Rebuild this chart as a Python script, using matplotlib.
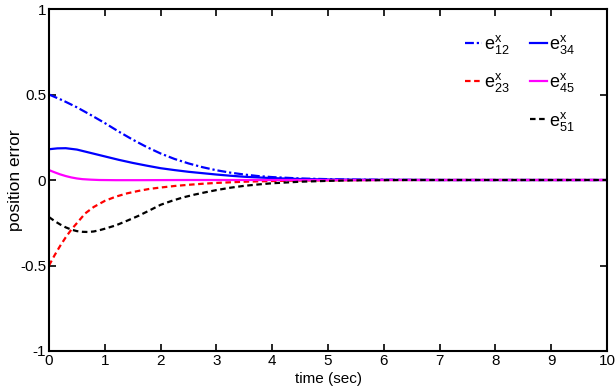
import numpy as np
import matplotlib
matplotlib.use('Agg')
import matplotlib.pyplot as plt
from matplotlib.lines import Line2D

plt.rcParams['font.family'] = ['Liberation Sans', 'DejaVu Sans']
plt.rcParams['mathtext.fontset'] = 'custom'
plt.rcParams['mathtext.rm'] = 'Liberation Sans'
plt.rcParams['mathtext.it'] = 'Liberation Sans'
plt.rcParams['mathtext.bf'] = 'Liberation Sans'

# values
t12 = [0, 0.25, 0.5, 0.75, 1.0, 1.25, 1.5, 1.75, 2.0, 2.25, 2.5, 2.75, 3.0, 3.25, 3.5, 3.75, 4.0, 4.5, 5.0, 5.5, 6.0, 7.0, 10.0]
e12 = [0.5, 0.465, 0.425, 0.38, 0.333, 0.283, 0.236, 0.193, 0.155, 0.123, 0.097, 0.075, 0.057, 0.043, 0.032, 0.023, 0.017, 0.009, 0.005, 0.002, 0.001, 0.0, 0.0]

t34 = [0, 0.15, 0.3, 0.5, 0.75, 1.0, 1.25, 1.5, 1.75, 2.0, 2.25, 2.5, 2.75, 3.0, 3.25, 3.5, 3.75, 4.0, 4.5, 5.0, 6.0, 7.0, 10.0]
e34 = [0.18, 0.185, 0.186, 0.178, 0.158, 0.138, 0.118, 0.1, 0.084, 0.069, 0.058, 0.048, 0.04, 0.032, 0.025, 0.019, 0.015, 0.011, 0.006, 0.003, 0.001, 0.0, 0.0]

t45 = [0, 0.1, 0.2, 0.3, 0.4, 0.5, 0.6, 0.75, 0.9, 1.2, 1.6, 2.5, 10.0]
e45 = [0.058, 0.045, 0.033, 0.023, 0.015, 0.009, 0.005, 0.002, 0.0, -0.001, -0.001, 0.0, 0.0]

t23 = [0, 0.1, 0.2, 0.3, 0.4, 0.5, 0.65, 0.8, 1.0, 1.2, 1.4, 1.6, 1.8, 2.0, 2.25, 2.5, 2.75, 3.0, 3.5, 4.0, 4.5, 5.0, 6.0, 10.0]
e23 = [-0.5, -0.44, -0.385, -0.335, -0.29, -0.252, -0.195, -0.158, -0.122, -0.097, -0.078, -0.064, -0.052, -0.044, -0.035, -0.028, -0.022, -0.017, -0.01, -0.006, -0.003, -0.002, 0.0, 0.0]

t51 = [0, 0.1, 0.2, 0.3, 0.4, 0.5, 0.6, 0.7, 0.8, 0.9, 1.0, 1.2, 1.4, 1.6, 1.8, 2.0, 2.2, 2.4, 2.6, 2.8, 3.0, 3.25, 3.5, 3.75, 4.0, 4.5, 5.0, 5.5, 6.5, 10.0]
e51 = [-0.217, -0.24, -0.26, -0.277, -0.29, -0.299, -0.303, -0.304, -0.301, -0.294, -0.285, -0.265, -0.238, -0.21, -0.178, -0.145, -0.122, -0.102, -0.086, -0.072, -0.059, -0.045, -0.034, -0.026, -0.019, -0.01, -0.005, -0.002, 0.0, 0.0]

labels = [r'$\mathregular{e^x_{12}}$', r'$\mathregular{e^x_{23}}$', r'$\mathregular{e^x_{34}}$',
          r'$\mathregular{e^x_{45}}$', r'$\mathregular{e^x_{51}}$']

fig = plt.figure(figsize=(6.15, 3.92), dpi=100)
ax = fig.add_axes([0.0797, 0.1046, 0.9073, 0.8724])

lw = 1.6
l12, = ax.plot(t12, e12, color='#0000ff', linestyle=(0, (4, 1.3, 1, 1.3)), lw=lw)
l23, = ax.plot(t23, e23, color='#ff0000', linestyle=(0, (2.5, 1.6)), lw=lw)
l34, = ax.plot(t34, e34, color='#0000ff', linestyle='-', lw=lw)
l45, = ax.plot(t45, e45, color='#ff00ff', linestyle='-', lw=lw)
l51, = ax.plot(t51, e51, color='#000000', linestyle=(0, (2.5, 1.6)), lw=lw)

blank = Line2D([], [], linestyle='none')
ax.legend([l12, l23, blank, l34, l45, l51],
          [labels[0], labels[1], '', labels[2], labels[3], labels[4]],
          ncol=2, frameon=False, fontsize=13, handlelength=0.95, handletextpad=0.1,
          columnspacing=1.15, labelspacing=0.85, loc='upper left', borderpad=0,
          borderaxespad=0, bbox_to_anchor=(0.745, 0.93))

ax.set_xlim(0, 10)
ax.set_ylim(-1, 1)
ax.set_xticks(range(0, 11))
ax.set_yticks([-1, -0.5, 0, 0.5, 1])
ax.set_yticklabels(['-1', '-0.5', '0', '0.5', '1'])
ax.tick_params(direction='in', top=True, right=True, labelsize=11, length=5, width=1.2, pad=2)
for s in ax.spines.values():
    s.set_linewidth(1.5)
ax.set_xlabel('time (sec)', fontsize=11, labelpad=3)
ax.set_ylabel('position error', fontsize=12.5, labelpad=-2)

fig.savefig('out.png', dpi=100)
